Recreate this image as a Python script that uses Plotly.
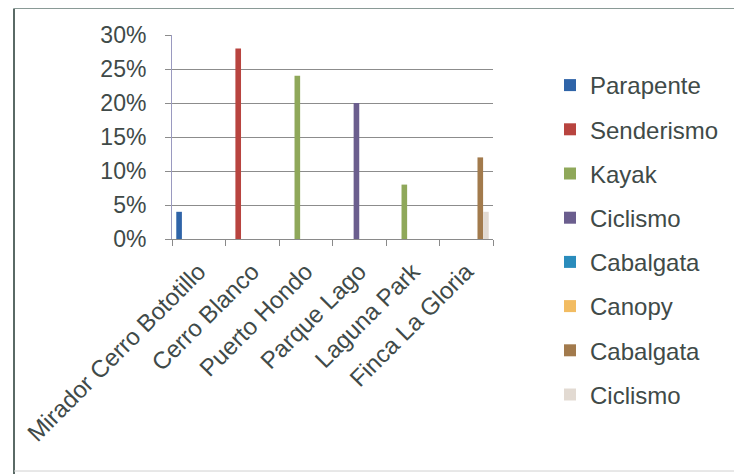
import plotly.graph_objects as go

categories = ["Mirador Cerro Bototillo", "Cerro Blanco", "Puerto Hondo",
              "Parque Lago", "Laguna Park", "Finca La Gloria"]
series_names = ["Parapente", "Senderismo", "Kayak", "Ciclismo",
                "Cabalgata", "Canopy", "Cabalgata", "Ciclismo"]
parapente  = [0.04, 0, 0, 0, 0, 0]
senderismo = [0, 0.28, 0, 0, 0, 0]
kayak      = [0, 0, 0.24, 0, 0.08, 0]
ciclismo   = [0, 0, 0, 0.20, 0, 0]
cabalgata  = [0, 0, 0, 0, 0, 0]
canopy     = [0, 0, 0, 0, 0, 0]
cabalgata2 = [0, 0, 0, 0, 0, 0.12]
ciclismo2  = [0, 0, 0, 0, 0, 0.04]
series_values = [parapente, senderismo, kayak, ciclismo,
                 cabalgata, canopy, cabalgata2, ciclismo2]
colors = ["#2f64a8", "#b8443f", "#8fa85a", "#6b5e8e",
          "#2a8cbc", "#f2bc62", "#a27a4c", "#e2dad2"]

# page has an 8px body margin; work in screen pixels
OFF = 8
W, H = 742 - OFF, 474 - OFF
PX0, PX1, PY0, PY1 = 172, 493, 35, 239   # plot area in screen pixels
L, T = PX0 - OFF, PY0 - OFF
R, B = W - (PX1 - OFF), H - (PY1 - OFF)
pw, ph = PX1 - PX0, PY1 - PY0
font_family = "Liberation Sans, Arial, sans-serif"
txt_color = "#404a48"

fig = go.Figure()
for i, (name, vals) in enumerate(zip(series_names, series_values)):
    fig.add_trace(go.Bar(
        x=categories, y=vals, name=name, marker_color=colors[i],
        marker_line_width=0, legendgroup=f"g{i}",
    ))

def px_x(p):
    return (p - PX0) / pw

def px_y(p):
    return (PY1 - p) / ph

fig.update_layout(
    width=W, height=H,
    margin=dict(l=L, r=R, t=T, b=B, pad=0),
    paper_bgcolor="white", plot_bgcolor="white",
    barmode="group", bargap=0.16, bargroupgap=0,
    font=dict(family=font_family, size=23, color=txt_color),
    showlegend=True,
    legend=dict(x=px_x(550), y=px_y(63), xanchor="left", yanchor="top",
                tracegroupgap=10, maxheight=440,
                font=dict(size=24, color=txt_color),
                bgcolor="rgba(0,0,0,0)"),
    xaxis=dict(type="category", tickson="boundaries", ticks="outside",
               ticklen=6, tickcolor="#8a8a8a", showline=True,
               linecolor="#8a8a8a", linewidth=1, tickangle=-45,
               ticklabelstandoff=8,
               showgrid=False, tickfont=dict(size=24, color=txt_color)),
    yaxis=dict(range=[0, 0.30], dtick=0.05, tickformat=".0%",
               showgrid=True, gridcolor="#8c8c8c", gridwidth=1,
               showline=True, linecolor="#9a9ac0", linewidth=1,
               ticks="outside", ticklen=6, tickcolor="#8c8c8c",
               ticklabelstandoff=14,
               zeroline=False, tickfont=dict(size=23, color=txt_color)),
    shapes=[
        dict(type="line", xref="paper", yref="paper",
             x0=px_x(14), x1=px_x(14), y0=px_y(8.5), y1=px_y(474),
             line=dict(color="#5a6a66", width=2)),
        dict(type="line", xref="paper", yref="paper",
             x0=px_x(14), x1=px_x(742), y0=px_y(8.5), y1=px_y(8.5),
             line=dict(color="#8a9a96", width=1)),
        dict(type="line", xref="paper", yref="paper",
             x0=px_x(14), x1=px_x(742), y0=px_y(471), y1=px_y(471),
             line=dict(color="#d0d0d0", width=1)),
    ],
)

fig.write_html("out.html")
